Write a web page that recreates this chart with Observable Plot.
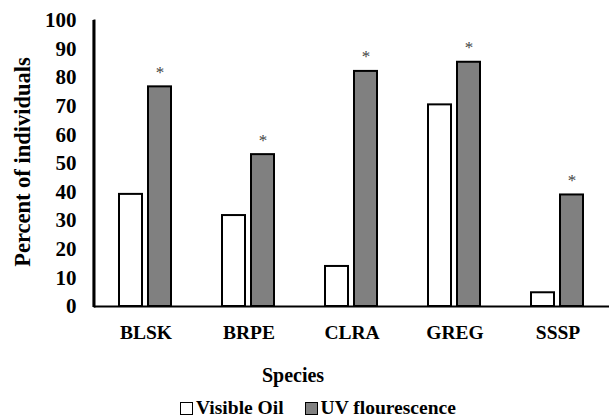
<!DOCTYPE html>
<html>
<head>
<meta charset="utf-8">
<script src="https://cdn.jsdelivr.net/npm/d3@7"></script>
<script src="https://cdn.jsdelivr.net/npm/@observablehq/plot@0.6"></script>
<style>
  body { margin: 0; background: #fff; font-family: "Liberation Serif"; }
  #wrap { width: 610px; }
  .xtitle { width: 586px; text-align: center; font-weight: bold; font-size: 20px; line-height: 30px; height: 30px; font-family: "Liberation Serif"; }
  .legend { width: 430px; padding-left: 180px; text-align: left; font-weight: bold; font-size: 19.5px; line-height: 29px; height: 29px; padding-top: 3px; font-family: "Liberation Serif"; white-space: nowrap; }
  .sw { display: inline-block; width: 11px; height: 11px; border: 1.6px solid #000; vertical-align: -1px; margin-right: 3px; }
  svg text { font-family: "Liberation Serif" !important; }
</style>
</head>
<body>
<div id="wrap"></div>
<script>
const species = ["BLSK", "BRPE", "CLRA", "GREG", "SSSP"];
const seriesNames = ["Visible Oil", "UV flourescence"];
const visibleOil = [39.2, 31.8, 14, 70.5, 4.8];
const uvFluor = [76.8, 53.1, 82.2, 85.4, 39];
const yTicks = [0, 10, 20, 30, 40, 50, 60, 70, 80, 90, 100];
const colors = ["#ffffff", "#808080"];
const FONT = "Liberation Serif";

const data = [];
species.forEach((s, i) => {
  data.push({species: s, series: seriesNames[0], value: visibleOil[i]});
  data.push({species: s, series: seriesNames[1], value: uvFluor[i]});
});

const chart = Plot.plot({
  width: 610,
  height: 360,
  marginLeft: 93,
  marginRight: 0,
  marginTop: 20,
  marginBottom: 54,
  style: {fontFamily: FONT, background: "#fff", color: "#000"},
  fx: {domain: species, paddingInner: 0, paddingOuter: 0, label: null, tickSize: 0, tickPadding: 19},
  x: {domain: seriesNames, paddingInner: 0.2, paddingOuter: 0.823, axis: null},
  y: {domain: [0, 100], ticks: yTicks, label: null, tickSize: 0, tickPadding: 18},
  color: {domain: seriesNames, range: colors},
  marks: [
    Plot.barY(data, {fx: "species", x: "series", y: "value", fill: "series", stroke: "#000", strokeWidth: 2}),
    Plot.text(data.filter(d => d.series === seriesNames[1]), {fx: "species", x: "series", y: "value", text: () => "*", lineAnchor: "bottom", dy: -9, fontSize: 17, fill: "#444", fontFamily: FONT}),
    Plot.ruleY([0], {stroke: "#000", strokeWidth: 2}),
    Plot.frame({anchor: "left", facetAnchor: "left", stroke: "#000", strokeWidth: 2})
  ]
});

const svg = d3.select(chart);
svg.selectAll("g[aria-label='y-axis tick label']")
  .attr("font-size", 21).attr("font-weight", "bold").attr("font-family", FONT)
  .style("font-size", "21px").style("font-weight", "bold").style("font-family", FONT);
svg.selectAll("g[aria-label='fx-axis tick label']")
  .attr("font-size", 19.5).attr("font-weight", "bold").attr("font-family", FONT)
  .style("font-size", "19.5px").style("font-weight", "bold").style("font-family", FONT);

// y-axis line along the left edge of the plot area, from the y scale
const ys = chart.scale("y");
svg.append("path")
  .attr("d", `M93.5,${ys.apply(100)}V${ys.apply(0) + 1}`)
  .attr("fill", "none")
  .attr("stroke", "#000")
  .attr("stroke-width", 2.2);

// y-axis title
svg.append("text")
  .attr("transform", "translate(22,162) rotate(-90)")
  .attr("text-anchor", "middle")
  .attr("dominant-baseline", "central")
  .attr("font-family", FONT)
  .attr("font-size", 22.5)
  .attr("font-weight", "bold")
  .text("Percent of individuals");

svg.selectAll("text").attr("font-family", FONT);

const wrap = document.getElementById("wrap");
wrap.appendChild(chart);

const xt = document.createElement("div");
xt.className = "xtitle";
xt.textContent = "Species";
wrap.appendChild(xt);

const lg = document.createElement("div");
lg.className = "legend";
seriesNames.forEach((name, i) => {
  const sw = document.createElement("span");
  sw.className = "sw";
  sw.style.background = colors[i];
  lg.appendChild(sw);
  const t = document.createElement("span");
  t.textContent = name;
  t.style.marginRight = i === 0 ? "21px" : "0";
  lg.appendChild(t);
});
wrap.appendChild(lg);
</script>
</body>
</html>
